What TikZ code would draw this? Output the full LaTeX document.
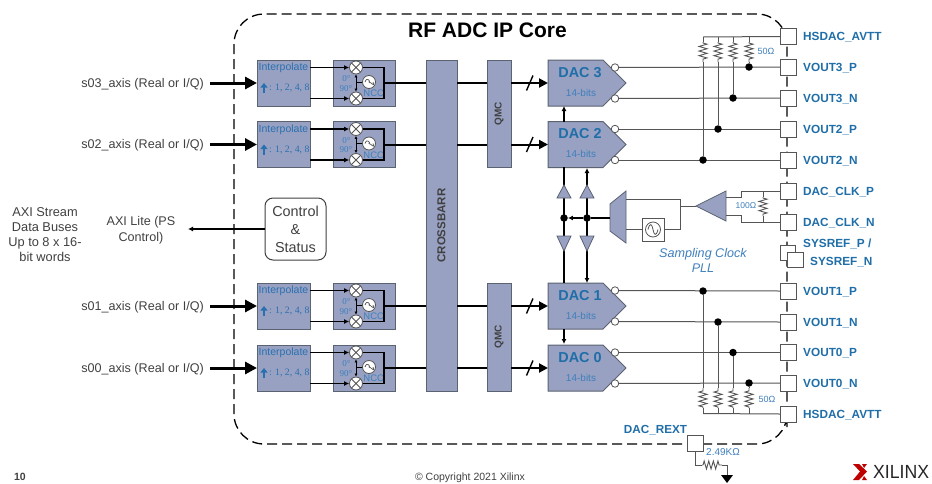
\documentclass[tikz,border=0pt]{standalone}
\usepackage{fontspec}
\setmainfont{Liberation Sans}
\newfontfamily\serifn{Liberation Serif}
\usetikzlibrary{arrows.meta,decorations.pathmorphing,calc}
\definecolor{blockfill}{HTML}{98A1C2}
\definecolor{blockedge}{HTML}{5B6270}
\definecolor{labelblue}{HTML}{1F6EA8}
\definecolor{softblue}{HTML}{3F7FBC}
\definecolor{inblue}{HTML}{2A70B0}
\definecolor{graytext}{HTML}{404040}
\definecolor{wiregray}{HTML}{555555}
\tikzset{
  blk/.style={draw=blockedge,fill=blockfill,line width=1pt,inner sep=0pt,outer sep=0pt},
  pinbox/.style={draw=wiregray,fill=white,line width=0.9pt,minimum width=16pt,minimum height=16pt,inner sep=0pt,outer sep=0pt},
  pinlabel/.style={text=labelblue,font=\bfseries\fontsize{11.8}{13}\selectfont,anchor=west,inner sep=0pt},
  axislabel/.style={text=graytext,font=\fontsize{12.6}{14}\selectfont,anchor=east,inner sep=0pt},
  bus/.style={line width=3pt,-{Triangle[length=12pt,width=12pt]},black},
  wire/.style={line width=1pt,wiregray},
  bwire/.style={line width=2pt,black},
  sig/.style={line width=1.2pt,black,-{Latex[length=5pt,width=5pt]}},
  dotj/.style={circle,fill=black,inner sep=0pt,minimum size=7.5pt},
  outc/.style={circle,draw=wiregray,fill=white,line width=.8pt,inner sep=0pt,minimum size=7.5pt},
  mixer/.style={circle,draw=wiregray,fill=white,line width=.8pt,inner sep=0pt,minimum size=13pt,
    path picture={\draw[wiregray,line width=.8pt] (path picture bounding box.north west)--(path picture bounding box.south east)
      (path picture bounding box.north east)--(path picture bounding box.south west);}},
  oscc/.style={circle,draw=wiregray,fill=white,line width=.8pt,inner sep=0pt,minimum size=13pt,
    path picture={\draw[wiregray,line width=.7pt] ($(path picture bounding box.center)+(-4pt,0)$) .. controls +(2pt,6pt) and +(2pt,0pt) .. (path picture bounding box.center) .. controls +(2pt,0pt) and +(2pt,-6pt)  .. ($(path picture bounding box.center)+(4pt,0)$);}},
  res/.style={line width=.9pt,wiregray,decorate,decoration={zigzag,amplitude=4pt,segment length=4.6pt,pre length=1pt,post length=1pt}},
  tri/.style={draw=blockedge,fill=blockfill,line width=.8pt,line join=miter},
  smallblue/.style={text=softblue,inner sep=0pt},
}
\begin{document}
\begin{tikzpicture}[x=1pt,y=-1pt]
\useasboundingbox (0,0) rectangle (932,483);
% core outline
\draw[line width=1.3pt,black,dash pattern=on 10pt off 5pt,rounded corners=30pt] (787,427) |- (234,444) |- (787,14) -- (787,427);
\node[font=\bfseries\fontsize{21}{24}\selectfont,inner sep=0pt] (title) at (487.5,30) {RF ADC IP Core};
% crossbar and QMC
\node[blk,minimum width=31pt,minimum height=331pt] (xbar) at (441.5,225.5) {};
\node[rotate=90,font=\bfseries\fontsize{11.5}{13}\selectfont,text=graytext,inner sep=0pt] (xbarl) at (xbar.center) {CROSSBARR};
\node[blk,minimum width=24pt,minimum height=107pt] (qmcA) at (499,113.5) {};
\node[blk,minimum width=24pt,minimum height=108pt] (qmcB) at (499,337) {};
\node[rotate=90,font=\bfseries\fontsize{10}{12}\selectfont,text=graytext,inner sep=0pt] (qa) at (qmcA.center) {QMC};
\node[rotate=90,font=\bfseries\fontsize{10}{12}\selectfont,text=graytext,inner sep=0pt] (qb) at (qmcB.center) {QMC};
% channels
\foreach \i/\yc/\nm in {3/83/s03,2/144.5/s02,1/306/s01,0/368/s00}{
  \node[blk,minimum width=53pt,minimum height=46pt] (int\i) at (283.5,\yc) {};
  \node[blk,minimum width=62pt,minimum height=46pt] (nco\i) at (364,\yc) {};
  \node[axislabel] (axl\i) at (204,\yc+1) {\nm\_axis (Real or I/Q)};
  \coordinate (busin\i) at (210,\yc);
  \draw[bus] (busin\i) -- (int\i.west);
  \node[text=inblue,font=\fontsize{10.5}{12}\selectfont,inner sep=0pt] (intt\i) at (283.5,\yc-15) {Interpolate};
  \node[text=inblue,font=\serifn\fontsize{9.8}{12}\selectfont,inner sep=0pt,anchor=west] (intr\i) at (269,\yc+5) {: 1, 2, 4, 8};
  \draw[inblue,line width=1.6pt,-{Triangle[length=4.5pt,width=7pt]}] (264,\yc+10) -- (264,\yc);
  \node[mixer] (mu\i) at (356,\yc-15.5) {};
  \node[mixer] (md\i) at (356,\yc+15.5) {};
  \node[oscc] (os\i) at (369,\yc-1) {};
  \node[smallblue,font=\serifn\fontsize{9}{10}\selectfont] (zd\i) at (346.5,\yc-4) {0°};
  \node[smallblue,font=\serifn\fontsize{9}{10}\selectfont] (nd\i) at (346,\yc+5.5) {90°};
  \node[smallblue,font=\fontsize{9.5}{11}\selectfont] (nl\i) at (374,\yc+10.5) {NCO};
  \draw[sig] (int\i.east |- mu\i) -- (mu\i.west);
  \draw[sig] (int\i.east |- md\i) -- (md\i.west);
  \coordinate (mj\i) at (356,\yc-1);
  \draw[black,line width=1pt,-{Latex[length=3pt,width=3pt]}] (mj\i) -- (mu\i.south);
  \draw[black,line width=1pt,-{Latex[length=3pt,width=3pt]}] (mj\i) -- (md\i.north);
  \draw[black,line width=.8pt] (os\i.west) -- (mj\i);
  \draw[line width=1.1pt,black] (mu\i.east) -| (384,\yc) |- (md\i.east);
  \draw[bwire] (384,\yc) -- (xbar.west |- 0,\yc);
  % DAC
  \coordinate (dacW\i) at (548,\yc);
  \draw[blk,line join=miter] (548,\yc-23) -- (603,\yc-23) -- (626,\yc) -- (603,\yc+23) -- (548,\yc+23) -- cycle;
  \node[text=labelblue,font=\bfseries\fontsize{14.4}{16}\selectfont,inner sep=0pt] (dacn\i) at (580,\yc-10.5) {DAC \i};
  \node[text=softblue,font=\fontsize{10}{12}\selectfont,inner sep=0pt] (dacb\i) at (581,\yc+9.5) {14-bits};
  \node[outc] (op\i) at (615,\yc-15.5) {};
  \node[outc] (on\i) at (615,\yc+15.5) {};
  \draw[bwire] (xbar.east |- 0,\yc) -- (qmcA.west |- 0,\yc);
  \draw[line width=2pt,black,-{Triangle[length=9pt,width=9pt]}] (qmcA.east |- 0,\yc) -- (dacW\i);
  \draw[line width=1.4pt,black] (526.5,\yc+7.5) -- (533,\yc-7.5);
}
% pins
\foreach \n/\y/\t in {avt/36.5/HSDAC\_AVTT,pA/67/VOUT3\_P,nA/98/VOUT3\_N,pB/129/VOUT2\_P,nB/160/VOUT2\_N,ckp/191/DAC\_CLK\_P,ckn/222/DAC\_CLK\_N,pC/291/VOUT1\_P,nC/322/VOUT1\_N,pD/352.5/VOUT0\_P,nD/383/VOUT0\_N,avb/414/HSDAC\_AVTT}{
  \node[pinbox] (\n) at (788,\y) {};
  \node[pinlabel] (l\n) at (803,\y+1) {\t};
}
\node[pinbox,minimum width=15pt,minimum height=15pt] (sy1) at (787.5,252.5) {};
\node[pinbox,minimum width=16pt,minimum height=15pt] (sy2) at (795,260) {};
\node[pinlabel] (lsy1) at (803,243.5) {SYSREF\_P /};
\node[pinlabel] (lsy2) at (810,262) {SYSREF\_N};
% DAC outputs
\foreach \o/\p in {op3/pA,on3/nA,op2/pB,on2/nB,op1/pC,on1/nC,op0/pD,on0/nD}{
  \draw[wire] (\o) -- (\p.west);
}
% termination resistors
\foreach \k/\x/\p/\q in {a/703/nB/pC,b/718/pB/nC,c/733/nA/pD,d/749/pA/nD}{
  \coordinate (rt\k) at (\x,42);
  \coordinate (rb\k) at (\x,62);
  \coordinate (st\k) at (\x,408);
  \coordinate (sb\k) at (\x,388);
  \node[dotj] (ju\k) at (rt\k |- \p) {};
  \node[dotj] (jl\k) at (rt\k |- \q) {};
  \draw[wire] (\x,37) -- (rt\k);
  \draw[res] (rt\k) -- (rb\k);
  \draw[wire] (rb\k) -- (ju\k);
  \draw[wire] (\x,413.5) -- (st\k);
  \draw[res] (st\k) -- (sb\k);
  \draw[wire] (sb\k) -- (jl\k);
}
\draw[wire] (703,37) -- (avt.west);
\draw[wire] (703,413.5) -- (avb.west);
\node[smallblue,font=\fontsize{9}{10}\selectfont] (r50a) at (766,51) {50Ω};
\node[smallblue,font=\fontsize{9}{10}\selectfont] (r50b) at (767,399) {50Ω};
% inter-DAC clock distribution
\draw[sig] (564,122) -- (564,106);
\draw[sig] (564,329) -- (564,344);
\draw[line width=1.6pt,black] (564,167) -- (564,283);
\draw[line width=1.1pt,black,{Latex[length=5pt,width=5pt]}-{Latex[length=5pt,width=5pt]}] (587,168) -- (587,283);
\foreach \x in {564,587}{
  \draw[tri] (\x,185) -- (\x+7,198) -- (\x-7,198) -- cycle;
  \draw[tri] (\x-7,236) -- (\x+7,236) -- (\x,251) -- cycle;
}
\node[dotj] (cj1) at (564,218) {};
\node[dotj] (cj2) at (587,218) {};
\draw[tri] (610,204) -- (626,191) -- (626,243) -- (610,231) -- cycle;
\coordinate (muxw) at (610,218);
\draw[line width=1.6pt,black] (muxw) -- (cj2);
\draw[line width=1.2pt,black,-{Latex[length=5pt,width=5pt]}] (cj2) -- (cj1);
\node[draw=wiregray,fill=white,line width=.9pt,minimum width=22pt,minimum height=23pt,inner sep=0pt] (posc) at (653,229.5) {};
\draw[wiregray,line width=.8pt] (653,229.5) circle (7.5pt);
\draw[wiregray,line width=.8pt] (648,229.5) .. controls (650,222) and (652,224) .. (653,229.5) .. controls (654,235) and (656,237) .. (658,229.5);
\draw[wire] (626,199) -| (680,229.5) -- (posc.east);
\draw[wire] (posc.west) -- (626,229.5);
\coordinate (rxamp) at (696,206);
\draw[wire] (680,206) -- (rxamp);
\draw[tri] (696,206) -- (726,191) -- (726,221) -- cycle;
\draw[wire] (726,197) -- (741,197) -- (741,191) -- (ckp.west);
\draw[wire] (726,215) -- (741,215) -- (741,222) -- (ckn.west);
\draw[wire] (763,191) -- (763,197);
\draw[res] (763,197) -- (763,216);
\draw[wire] (763,216) -- (763,222);
\node[smallblue,font=\fontsize{8.5}{10}\selectfont] (r100) at (746,206) {100Ω};
\node[text=softblue,font=\itshape\fontsize{12.6}{15}\selectfont,inner sep=0pt,align=center] (pll) at (703,260.5) {Sampling Clock\\PLL};
% control
\node[draw=black!75,fill=white,line width=1pt,rounded corners=8pt,minimum width=61pt,minimum height=62pt,inner sep=0pt,align=center,font=\fontsize{14.4}{18}\selectfont,text=graytext] (ctrl) at (295.5,229) {Control\\\&\\Status};
\coordinate (axil) at (188,229);
\draw[line width=1.1pt,black,-{Latex[length=5pt,width=5pt]}] (ctrl.west) -- (axil);
\node[text=graytext,font=\fontsize{12.6}{15.5}\selectfont,align=center,inner sep=0pt] (axit) at (141,230) {AXI Lite (PS\\Control)};
\node[text=graytext,font=\fontsize{12.8}{15}\selectfont,align=center,inner sep=0pt] (axis) at (45,234.5) {AXI Stream\\Data Buses\\Up to 8 x 16-\\bit words};
% REXT
\node[pinbox,minimum width=16pt,minimum height=15.5pt] (rext) at (695,443.5) {};
\node[text=labelblue,font=\bfseries\fontsize{11.7}{13}\selectfont,inner sep=0pt] (lrext) at (655.5,430) {DAC\_REXT};
\node[smallblue,font=\fontsize{10}{11}\selectfont,anchor=west] (lr249) at (706,452.5) {2.49KΩ};
\coordinate (gnd) at (727,475);
\draw[wire] (rext.south) -- (695,465) -- (702,465);
\draw[res] (702,465) -- (722,465);
\draw[wire] (722,465) -- (727,465) -- (gnd);
\fill[black] (721,475) -- (733,475) -- (727,483) -- cycle;
% footer
\node[font=\bfseries\fontsize{10.5}{12}\selectfont,text=graytext,inner sep=0pt] (pg) at (20,477) {10};
\node[font=\fontsize{10.5}{12}\selectfont,text=graytext,inner sep=0pt] (copy) at (470,477.5) {© Copyright 2021 Xilinx};
\fill[red!75!black] (853,464) -- (859,464) -- (867,471.5) -- (859,480) -- (853,480) -- (860,471.5) -- cycle;
\fill[red!75!black] (862,464) -- (867,464) -- (864,468) -- cycle (862,480) -- (867,480) -- (864,476) -- cycle;
\node[font=\fontsize{19}{22}\selectfont,text=black!85,anchor=west,inner sep=0pt,xscale=.93] (xil) at (873,472) {XILINX};
\end{tikzpicture}
\end{document}
